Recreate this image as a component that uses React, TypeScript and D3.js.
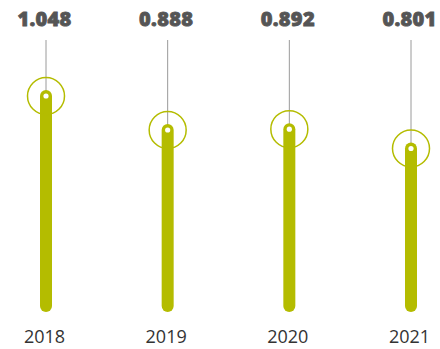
import React from "react";
import * as d3 from "d3";

const years = ["2018", "2019", "2020", "2021"];
const values = [1.048, 0.888, 0.892, 0.801];
const valueLabels = ["1.048", "0.888", "0.892", "0.801"];

const W = 440;
const H = 349;
const OLIVE = "#b4bc00";

export default function App() {
  const x = d3.scalePoint<string>().domain(years).range([46, 411]);
  const y = d3.scaleLinear().domain([0, 1.048]).range([318.7, 96]);
  const barBottom = 306;
  return (
    <svg
      width={W}
      height={H}
      style={{ position: "absolute", left: 0, top: 0 }}
      fontFamily="'Open Sans', sans-serif"
    >
      {years.map((yr, i) => {
        const cx = x(yr) as number;
        const cy = y(values[i]);
        return (
          <g key={yr}>
            <line x1={cx} x2={cx} y1={40} y2={cy} stroke="#9a9a9a" strokeWidth={1} />
            <line
              x1={cx}
              x2={cx}
              y1={cy}
              y2={barBottom}
              stroke={OLIVE}
              strokeWidth={12}
              strokeLinecap="round"
            />
            <circle cx={cx} cy={cy} r={2.6} fill="#fff" />
            <circle cx={cx} cy={cy} r={18.5} fill="none" stroke={OLIVE} strokeWidth={1.5} />
            <text
              x={cx - 1.5}
              y={26}
              textAnchor="middle"
              fontSize={20}
              fontWeight={800}
              fill="#555"
              stroke="#555"
              strokeWidth={0.8}
              letterSpacing={0.3}
            >
              {valueLabels[i]}
            </text>
            <text x={cx - 1.5} y={343} textAnchor="middle" fontSize={18} fill="#333">
              {yr}
            </text>
          </g>
        );
      })}
    </svg>
  );
}
